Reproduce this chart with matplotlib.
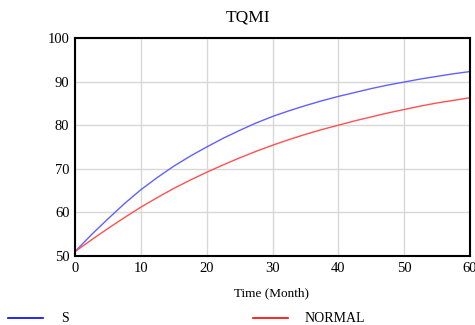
import matplotlib
matplotlib.use("Agg")
import matplotlib.pyplot as plt
from matplotlib.lines import Line2D

plt.rcParams['font.family'] = ['Liberation Serif', 'DejaVu Serif']

# data (every 2.5 months)
months = [0, 2.5, 5, 7.5, 10, 12.5, 15, 17.5, 20, 22.5, 25, 27.5, 30,
          32.5, 35, 37.5, 40, 42.5, 45, 47.5, 50, 52.5, 55, 57.5, 60]
s_vals = [51, 54.9, 58.5, 62.0, 65.2, 68.0, 70.6, 72.9, 75.0, 77.0, 78.8, 80.5, 82.0,
          83.3, 84.5, 85.6, 86.6, 87.5, 88.4, 89.2, 89.9, 90.6, 91.2, 91.8, 92.3]
normal_vals = [51, 53.7, 56.3, 58.8, 61.2, 63.4, 65.5, 67.4, 69.2, 70.9, 72.5, 74.0, 75.4,
               76.7, 77.9, 79.0, 80.0, 81.0, 81.9, 82.8, 83.6, 84.4, 85.1, 85.7, 86.3]

fig = plt.figure(figsize=(4.75, 3.25), dpi=100)
ax = fig.add_axes([75 / 475, 1 - 256 / 325, 395 / 475, 218 / 325])

ax.plot(months, s_vals, color="#6060ff", linewidth=1.0)
ax.plot(months, normal_vals, color="#ff5050", linewidth=1.0)

ax.set_xlim(0, 60)
ax.set_ylim(50, 100)
ax.set_xticks(range(0, 61, 10))
ax.set_yticks(range(50, 101, 10))
ax.grid(True, color="#d8d8d8", linewidth=1.0)
ax.set_axisbelow(True)
ax.tick_params(length=0, labelsize=10.5, pad=4)
for sp in ax.spines.values():
    sp.set_linewidth(1.5)
    sp.set_color("black")

fig.text(248 / 475, 1 - 18 / 325, "TQMI", fontsize=12.5, ha="center", va="center")
fig.text(272 / 475, 1 - 293 / 325, "Time (Month)", fontsize=9.5, ha="center", va="center")

# legend along the bottom
ly = 1 - 318 / 325
fig.add_artist(Line2D([8 / 475, 43 / 475], [ly, ly], color="blue", linewidth=1.2))
fig.text(61 / 475, ly, "S", fontsize=10, va="center")
fig.add_artist(Line2D([253 / 475, 288 / 475], [ly, ly], color="red", linewidth=1.2))
fig.text(305 / 475, ly, "NORMAL", fontsize=10, va="center")

fig.savefig("out.png", dpi=100)
